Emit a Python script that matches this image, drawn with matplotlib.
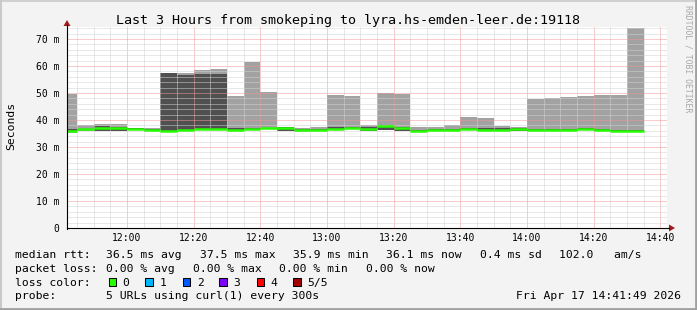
import matplotlib
matplotlib.use("Agg")
import matplotlib.pyplot as plt
from matplotlib.ticker import MultipleLocator, FixedLocator, FixedFormatter
from matplotlib.patches import Rectangle, Polygon
from matplotlib.lines import Line2D

# ---------------- data ----------------
bar_times = ["11:40", "11:45", "11:50", "11:55", "12:00", "12:05", "12:10", "12:15",
             "12:20", "12:25", "12:30", "12:35", "12:40", "12:45", "12:50", "12:55",
             "13:00", "13:05", "13:10", "13:15", "13:20", "13:25", "13:30", "13:35",
             "13:40", "13:45", "13:50", "13:55", "14:00", "14:05", "14:10", "14:15",
             "14:20", "14:25", "14:30"]
# outer smoke range (min / max ping), ms
smoke_min = [35.3, 36.0, 35.8, 35.8, 36.2, 36.0, 35.8, 36.0, 36.2, 36.2, 36.0, 36.2,
             36.5, 36.0, 35.7, 35.9, 36.3, 36.5, 35.9, 36.3, 36.0, 35.6, 35.8, 35.8,
             36.2, 35.9, 35.8, 35.8, 36.0, 36.0, 36.0, 36.4, 35.9, 35.6, 35.6]
smoke_max = [49.5, 38.0, 38.6, 38.4, 37.2, 36.9, 57.5, 57.6, 58.6, 58.9, 49.0, 61.6,
             50.5, 37.5, 36.9, 37.5, 49.3, 48.8, 38.2, 50.1, 49.6, 37.5, 37.5, 38.0,
             41.2, 40.7, 37.9, 37.4, 47.9, 48.1, 48.5, 48.9, 49.2, 49.3, 74.2]
# inner (denser) smoke range, ms
inner_min = [35.6, 36.2, 35.9, 35.9, 36.3, 36.1, 35.9, 36.1, 36.3, 36.3, 36.2, 36.3,
             36.6, 36.1, 35.8, 36.0, 36.4, 36.6, 36.0, 36.4, 36.1, 35.7, 35.9, 35.9,
             36.3, 36.0, 35.9, 35.9, 36.1, 36.1, 36.1, 36.5, 36.0, 35.7, 35.7]
inner_max = [36.6, 36.8, 37.8, 37.6, 36.9, 36.6, 57.3, 56.6, 57.2, 57.2, 37.0, 37.0,
             37.2, 37.3, 36.5, 36.8, 37.3, 37.6, 37.5, 37.8, 37.5, 36.4, 36.6, 36.8,
             37.1, 37.2, 36.9, 37.1, 36.6, 36.6, 36.6, 37.1, 36.6, 36.3, 36.3]
median_rtt = [36.0, 36.5, 37.2, 36.9, 36.6, 36.3, 36.1, 36.4, 36.6, 36.6, 36.3, 36.6,
              37.0, 36.9, 36.2, 36.3, 36.8, 37.2, 36.8, 37.7, 37.0, 36.0, 36.3, 36.3,
              36.8, 36.4, 36.3, 36.6, 36.3, 36.3, 36.3, 36.8, 36.3, 35.9, 35.9]

x_tick_labels = ["12:00", "12:20", "12:40", "13:00", "13:20", "13:40", "14:00", "14:20", "14:40"]
y_tick_values = [0, 10, 20, 30, 40, 50, 60, 70]
y_tick_labels = ["0", "10 m", "20 m", "30 m", "40 m", "50 m", "60 m", "70 m"]

loss_labels = ["0", "1", "2", "3", "4", "5/5"]
loss_colors = ["#26ff00", "#00b8ff", "#0059ff", "#7e00ff", "#ff0000", "#a10000"]

title = "Last 3 Hours from smokeping to lyra.hs-emden-leer.de:19118"
rtt_items = ["36.5 ms avg", "37.5 ms max", "35.9 ms min", "36.1 ms now", "0.4 ms sd", "102.0   am/s"]
loss_items = ["0.00 % avg", "0.00 % max", "0.00 % min", "0.00 % now"]
probe_text = "5 URLs using curl(1) every 300s"
date_text = "Fri Apr 17 14:41:49 2026"
# ---------------------------------------

W, H = 697, 310
MONO = "DejaVu Sans Mono"
plt.rcParams["font.family"] = MONO


def to_min(s):
    h, m = s.split(":")
    return int(h) * 60 + int(m)


xs = [to_min(t) for t in bar_times]
xt = [to_min(t) for t in x_tick_labels]

fig = plt.figure(figsize=(W / 100, H / 100), dpi=100, facecolor="#f3f3f3")
ax = fig.add_axes([67 / W, (H - 228) / H, 600 / W, 201.5 / H])
ax.set_facecolor("white")
ax.set_xlim(702, 882)
ax.set_ylim(0, 74.65)

ax.bar(xs, [b - a for a, b in zip(smoke_min, smoke_max)], bottom=smoke_min, width=5,
       align="edge", color="#a2a2a2", linewidth=0, zorder=1)
ax.bar(xs, [b - a for a, b in zip(inner_min, inner_max)], bottom=inner_min, width=5,
       align="edge", color="#505050", linewidth=0, zorder=1.5)
ax.hlines(median_rtt, xs, [v + 5 for v in xs], colors=loss_colors[0], linewidth=1.8, zorder=4)

ax.xaxis.set_major_locator(FixedLocator(xt))
ax.xaxis.set_major_formatter(FixedFormatter(x_tick_labels))
ax.xaxis.set_minor_locator(MultipleLocator(5))
ax.yaxis.set_major_locator(FixedLocator(y_tick_values))
ax.yaxis.set_major_formatter(FixedFormatter(y_tick_labels))
ax.yaxis.set_minor_locator(MultipleLocator(2))

ax.set_axisbelow(False)
ax.grid(which="minor", color="#d2d2d2", linewidth=0.72, linestyle=(0, (1, 1)))
ax.grid(which="major", color="#f09898", linewidth=0.72, linestyle=(0, (1, 1)))
ax.tick_params(which="both", length=0)
ax.tick_params(axis="y", pad=5.5, labelsize=7)
ax.tick_params(axis="x", pad=3.5, labelsize=7)
for s in ax.spines.values():
    s.set_visible(False)

# overlay in pixel coordinates
ov = fig.add_axes([0, 0, 1, 1], zorder=10)
ov.set_xlim(0, W)
ov.set_ylim(H, 0)
ov.axis("off")
ov.patch.set_alpha(0)

# frame
ov.add_line(Line2D([0, W], [0.8, 0.8], color="#d0d0d0", lw=1.4))
ov.add_line(Line2D([0.8, 0.8], [0, H], color="#c8c8c8", lw=1.4))
ov.add_line(Line2D([0, W], [H - 1.3, H - 1.3], color="#a0a0a0", lw=2.0))
ov.add_line(Line2D([W - 1.3, W - 1.3], [0, H], color="#a0a0a0", lw=2.0))

# axes lines and arrows
ov.add_line(Line2D([66.5, 669], [228, 228], color="black", lw=0.8))
ov.add_line(Line2D([67, 67], [228.5, 25], color="black", lw=0.8))
ov.add_patch(Polygon([(669, 224.5), (675, 228), (669, 231.5)], closed=True,
                     color="#a01c1c", lw=0))
ov.add_patch(Polygon([(63.5, 26), (67, 20), (70.5, 26)], closed=True,
                     color="#a01c1c", lw=0))

# titles
ov.text(348, 24, title, ha="center", va="baseline", fontsize=9.6, family=MONO)
ov.text(11, 126, "Seconds", rotation=90, ha="center", va="center", fontsize=8.2, family=MONO)
ov.text(688, 59, "RRDTOOL / TOBI OETIKER", rotation=270, ha="center", va="center",
        fontsize=5.9, family=MONO, color="#a8a8a8")

# legend
LF = 8.2
CW = 6.94   # character advance in px
GAP = 17.0  # gap between legend elements in px
X0, XV = 15.3, 106.3


def row(y, label, items):
    ov.text(X0, y, label, ha="left", va="baseline", fontsize=LF, family=MONO)
    xp = XV
    for s in items:
        ov.text(xp, y, s, ha="left", va="baseline", fontsize=LF, family=MONO)
        xp += len(s) * CW + GAP


row(258.3, "median rtt:", rtt_items)
row(272.0, "packet loss:", loss_items)
row(285.7, "loss color:", [])
row(299.4, "probe:", [probe_text])
ov.text(680.5, 299.4, date_text, ha="right", va="baseline", fontsize=LF, family=MONO)

sq_x = [108.7, 145.3, 182.7, 219.3, 256.7, 293.3]
for i, (lab, col) in enumerate(zip(loss_labels, loss_colors)):
    ov.add_patch(Rectangle((sq_x[i], 277.5), 7.5, 8.2, facecolor=col, edgecolor="black", lw=0.75))
    ov.text(sq_x[i] + 14.0, 285.7, lab, ha="left", va="baseline", fontsize=LF, family=MONO)

fig.savefig("out.png", dpi=100, facecolor=fig.get_facecolor())
